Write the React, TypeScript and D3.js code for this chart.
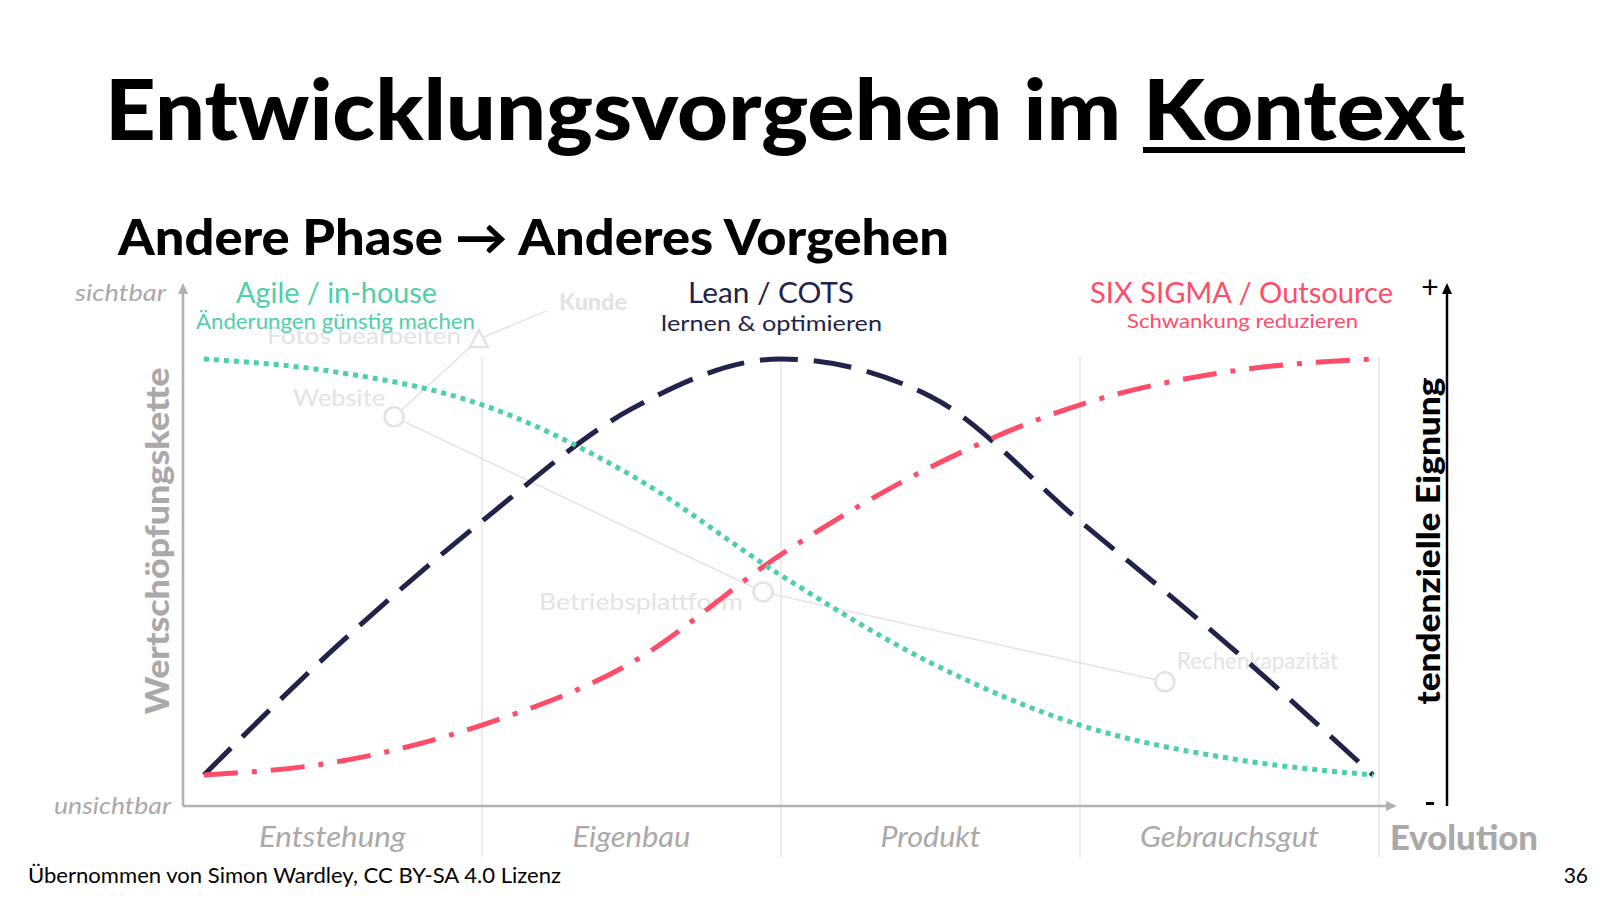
import React from "react";
import * as d3 from "d3";

// Evolution stages (x axis categories)
const stages = ["Entstehung", "Eigenbau", "Produkt", "Gebrauchsgut"];

// Sample positions along evolution axis (0..4)
const evoX = [0.07, 0.5, 1, 1.5, 2, 2.5, 3, 3.5, 3.98];

// Tendency of suitability (0 = -, 1 = +)
const agileValues = [1.0, 0.97, 0.89, 0.72, 0.48, 0.27, 0.12, 0.04, 0.0];
const leanValues = [0.0, 0.3, 0.61, 0.88, 1.0, 0.91, 0.61, 0.31, 0.0];
const sixSigmaValues = [0.0, 0.03, 0.12, 0.27, 0.53, 0.74, 0.89, 0.97, 1.0];

// Faint Wardley map in background: names, evolution, visibility
const nodeNames = ["Fotos bearbeiten", "Website", "Betriebsplattform", "Rechenkapazität"];
const nodeEvo = [0.99, 0.706, 1.94, 3.284];
const nodeVis = [1.048, 0.861, 0.44, 0.224];
const kundeEvo = 1.214;
const kundeVis = 1.115;

const FONT = "Lato, 'Open Sans', sans-serif";

export default function App() {
  const W = 1600;
  const H = 900;
  const x = d3.scaleLinear().domain([0, 4]).range([183, 1379]);
  const y = d3.scaleLinear().domain([0, 1]).range([775, 359]);

  const line = d3
    .line<[number, number]>()
    .x((d) => x(d[0]))
    .y((d) => y(d[1]))
    .curve(d3.curveMonotoneX);

  const mk = (vals: number[]) => line(evoX.map((e, i) => [e, vals[i]] as [number, number])) || "";

  const axisGrey = "#b3b0b2";
  const labelGrey = "#aaa8a9";
  const faint = "#e3e3e3";
  const green = "#4fcfa8";
  const navy = "#22234a";
  const red = "#ff4d69";

  const nodePts = nodeEvo.map((e, i) => [x(e), y(nodeVis[i])]);
  const kundePt = [x(kundeEvo), y(kundeVis)];
  const stageWidths = [147, 118, 100, 179];
  const sa = "spacingAndGlyphs";

  return (
    <svg
      width={W}
      height={H}
      viewBox={`0 0 ${W} ${H}`}
      style={{ position: "absolute", left: 0, top: 0, background: "#fff" }}
    >
      <rect x={0} y={0} width={W} height={H} fill="#fff" />
      {/* Title */}
      <text x={105} y={140} fontFamily={FONT} fontWeight={900} fontSize={84} fill="#000" textLength={1016} lengthAdjust={sa}>
        Entwicklungsvorgehen im
      </text>
      <text x={1143} y={140} fontFamily={FONT} fontWeight={900} fontSize={84} fill="#000" textLength={322} lengthAdjust={sa}>
        Kontext
      </text>
      <rect x={1143} y={147} width={322} height={6} fill="#000" />

      {/* Subtitle */}
      <text x={118} y={255} fontFamily={FONT} fontWeight={900} fontSize={49} fill="#000" textLength={831} lengthAdjust={sa}>
        Andere Phase → Anderes Vorgehen
      </text>

      {/* Grid lines between stages */}
      {[1, 2, 3, 4].map((v) => (
        <line key={v} x1={x(v)} x2={x(v)} y1={357} y2={857} stroke="#e6e6e6" strokeWidth={1.5} />
      ))}

      {/* Faint background Wardley map */}
      <g stroke={faint} strokeWidth={1.5} fill="none">
        <line x1={kundePt[0]} y1={kundePt[1]} x2={nodePts[0][0]} y2={nodePts[0][1]} />
        {nodePts.slice(1).map((p, i) => (
          <line key={i} x1={nodePts[i][0]} y1={nodePts[i][1]} x2={p[0]} y2={p[1]} />
        ))}
      </g>
      <g fontFamily={FONT} fill={faint} fontSize={24}>
        <text x={kundePt[0] + 13} y={kundePt[1] - 1} fontWeight={900} fontSize={23} textLength={68} lengthAdjust={sa}>
          Kunde
        </text>
        <text x={nodePts[0][0] - 212} y={nodePts[0][1] + 5} textLength={194} lengthAdjust={sa}>
          {nodeNames[0]}
        </text>
        <text x={nodePts[1][0] - 101} y={nodePts[1][1] - 11} textLength={92} lengthAdjust={sa}>
          {nodeNames[1]}
        </text>
        <text x={nodePts[2][0] - 224} y={nodePts[2][1] + 18} textLength={204} lengthAdjust={sa}>
          {nodeNames[2]}
        </text>
        <text x={nodePts[3][0] + 12} y={nodePts[3][1] - 13} textLength={161} lengthAdjust={sa}>
          {nodeNames[3]}
        </text>
      </g>
      <g stroke={faint} strokeWidth={2.5} fill="#fff">
        <path
          d={`M${nodePts[0][0]},${nodePts[0][1] - 9} L${nodePts[0][0] + 9},${nodePts[0][1] + 8} L${nodePts[0][0] - 9},${nodePts[0][1] + 8} Z`}
        />
        {nodePts.slice(1).map((p, i) => (
          <circle key={i} cx={p[0]} cy={p[1]} r={9.5} />
        ))}
      </g>

      {/* Left axis */}
      <line x1={183} x2={183} y1={806} y2={292} stroke={axisGrey} strokeWidth={2.5} />
      <path d="M183,283 L178,294 L188,294 Z" fill={axisGrey} />
      {/* Bottom axis */}
      <line x1={183} x2={1388} y1={806} y2={806} stroke={axisGrey} strokeWidth={2.5} />
      <path d="M1397,806 L1386,801 L1386,811 Z" fill={axisGrey} />

      <text x={75} y={301} fontFamily={FONT} fontStyle="italic" fontSize={24} fill={labelGrey} textLength={91} lengthAdjust={sa}>
        sichtbar
      </text>
      <text x={54} y={814} fontFamily={FONT} fontStyle="italic" fontSize={24} fill={labelGrey} textLength={117} lengthAdjust={sa}>
        unsichtbar
      </text>
      <text
        transform="translate(169,541) rotate(-90)"
        textAnchor="middle"
        fontFamily={FONT}
        fontWeight={900}
        fontSize={33}
        fill={labelGrey}
        textLength={347}
        lengthAdjust={sa}
      >
        Wertschöpfungskette
      </text>

      {/* Stage labels */}
      {stages.map((s, i) => (
        <text
          key={s}
          x={x(i + 0.5) - stageWidths[i] / 2}
          y={847}
          fontFamily={FONT}
          fontStyle="italic"
          fontSize={28}
          fill={labelGrey}
          textLength={stageWidths[i]}
          lengthAdjust={sa}
        >
          {s}
        </text>
      ))}
      <text x={1390} y={850} fontFamily={FONT} fontWeight={900} fontSize={34} fill={labelGrey} textLength={148} lengthAdjust={sa}>
        Evolution
      </text>

      {/* Right axis */}
      <line x1={1447} x2={1447} y1={806} y2={292} stroke="#000" strokeWidth={2.5} />
      <path d="M1447,283 L1442,294 L1452,294 Z" fill="#000" />
      <text x={1430} y={298} textAnchor="middle" fontFamily={FONT} fontWeight={400} fontSize={30} fill="#000">
        +
      </text>
      <rect x={1426} y={802} width={8} height={3} fill="#000" />
      <text
        transform="translate(1440,541) rotate(-90)"
        textAnchor="middle"
        fontFamily={FONT}
        fontWeight={900}
        fontSize={33}
        fill="#000"
        textLength={327}
        lengthAdjust={sa}
      >
        tendenzielle Eignung
      </text>

      {/* Curves */}
      <path d={mk(leanValues)} fill="none" stroke={navy} strokeWidth={5} strokeDasharray="38 16" />
      <path d={mk(sixSigmaValues)} fill="none" stroke={red} strokeWidth={5} strokeDasharray="34 14 5 14" />
      <path d={mk(agileValues)} fill="none" stroke={green} strokeWidth={5} strokeDasharray="5 5" />

      {/* Curve labels */}
      <g fontFamily={FONT}>
        <text x={336 - 100} y={303} fontSize={28} fill={green} textLength={201} lengthAdjust={sa}>
          Agile / in-house
        </text>
        <text x={336 - 140} y={329} fontSize={21} fill={green} textLength={279} lengthAdjust={sa}>
          Änderungen günstig machen
        </text>
        <text x={771 - 83} y={303} fontSize={28} fill={navy} textLength={166} lengthAdjust={sa}>
          Lean / COTS
        </text>
        <text x={771 - 110} y={331} fontSize={22} fill={navy} textLength={221} lengthAdjust={sa}>
          lernen &amp; optimieren
        </text>
        <text x={1242 - 152} y={303} fontSize={28} fill={red} textLength={303} lengthAdjust={sa}>
          SIX SIGMA / Outsource
        </text>
        <text x={1242 - 115} y={328} fontSize={20} fill={red} textLength={231} lengthAdjust={sa}>
          Schwankung reduzieren
        </text>
      </g>

      {/* Footer */}
      <text x={28} y={883} fontFamily={FONT} fontSize={21} fill="#000" textLength={533} lengthAdjust={sa}>
        Übernommen von Simon Wardley, CC BY-SA 4.0 Lizenz
      </text>
      <text x={1588} y={883} textAnchor="end" fontFamily={FONT} fontSize={21} fill="#000">
        36
      </text>
    </svg>
  );
}
